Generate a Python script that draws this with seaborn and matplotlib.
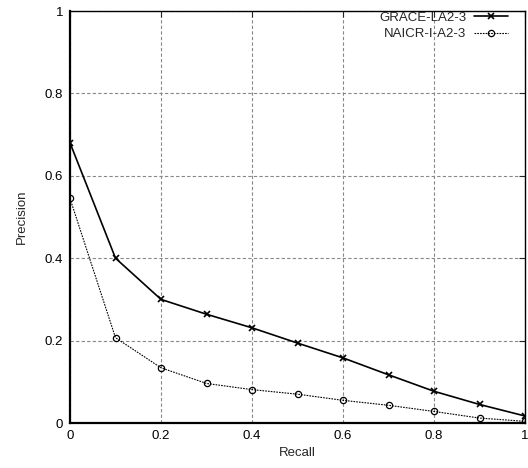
import matplotlib
matplotlib.use("Agg")
import matplotlib.pyplot as plt
import seaborn as sns
import pandas as pd

recall = [0.0, 0.1, 0.2, 0.3, 0.4, 0.5, 0.6, 0.7, 0.8, 0.9, 1.0]
grace = [0.68, 0.40, 0.30, 0.264, 0.231, 0.194, 0.158, 0.117, 0.077, 0.045, 0.017]
naicr = [0.545, 0.207, 0.134, 0.096, 0.081, 0.070, 0.055, 0.043, 0.028, 0.012, 0.004]
series_names = ["GRACE-LA2-3", "NAICR-I-A2-3"]
ticks = [0, 0.2, 0.4, 0.6, 0.8, 1]
tick_labels = ["0", "0.2", "0.4", "0.6", "0.8", "1"]

sns.set_style("white")
plt.rcParams["font.family"] = ["Liberation Sans", "DejaVu Sans"]

df_g = pd.DataFrame({"Recall": recall, "Precision": grace})
df_n = pd.DataFrame({"Recall": recall, "Precision": naicr})

fig = plt.figure(figsize=(5.28, 4.68), dpi=100)
ax = fig.add_axes([70/528, 1-423/468, 455/528, 412/468])

sns.lineplot(data=df_g, x="Recall", y="Precision", ax=ax, color="black",
             linewidth=1.2, marker="x", markersize=5, markeredgewidth=1.2,
             markeredgecolor="black",
             label=series_names[0], zorder=3)
sns.lineplot(data=df_n, x="Recall", y="Precision", ax=ax, color="black",
             linewidth=0.8, linestyle=(0, (1.5, 1)), marker="o", markersize=4.5,
             markerfacecolor="none", markeredgecolor="black", markeredgewidth=0.9,
             label=series_names[1], zorder=3)

ax.set_xlim(0, 1)
ax.set_ylim(0, 1)
ax.set_xticks(ticks)
ax.set_xticklabels(tick_labels)
ax.set_yticks(ticks)
ax.set_yticklabels(tick_labels)
ax.grid(True, color="#888888", linestyle=(0, (3, 2)), linewidth=0.8)
ax.tick_params(direction="in", length=4, labelsize=9.5, width=0.8, pad=5,
               top=True, right=True, labelcolor="black")
for s in ["left", "bottom"]:
    ax.spines[s].set_linewidth(1.6)
for s in ["top", "right"]:
    ax.spines[s].set_linewidth(1.0)
for s in ax.spines.values():
    s.set_color("black")

ax.set_xlabel("Recall", fontsize=9.5, labelpad=4)
ax.set_ylabel("Precision", fontsize=9.5, labelpad=12)

leg = ax.legend(loc="upper right", bbox_to_anchor=(0.975, 1.012), frameon=False,
                markerfirst=False, fontsize=9.5, handlelength=2.6, borderaxespad=0.0,
                labelspacing=0.35, handletextpad=0.6)

fig.savefig("out.png", dpi=100)
